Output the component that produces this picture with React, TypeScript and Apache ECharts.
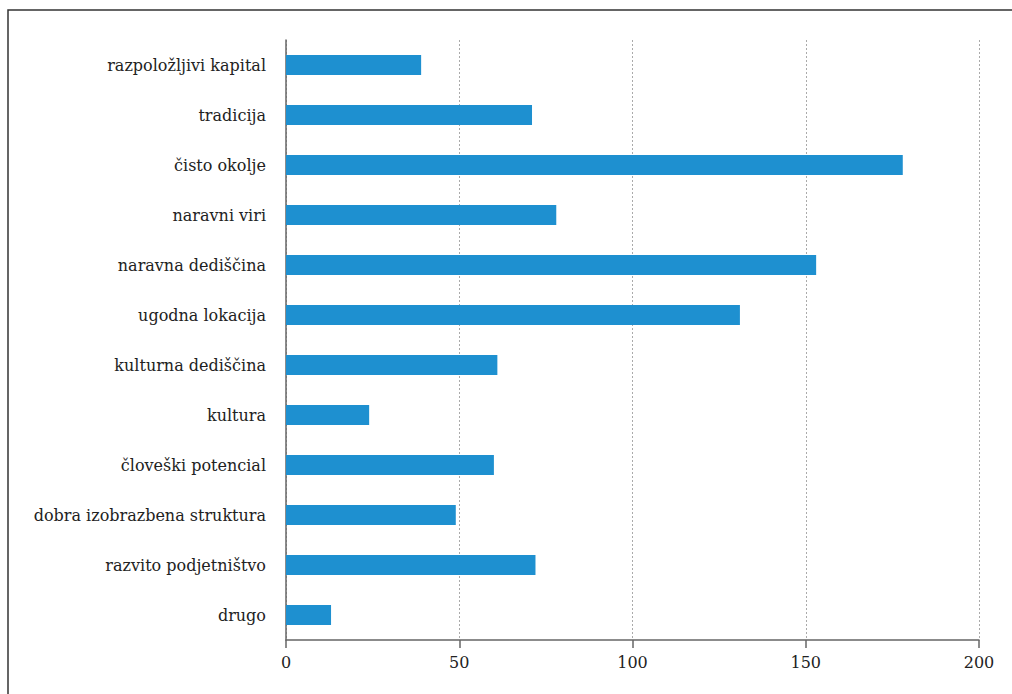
import React, { useEffect, useRef } from "react";
import * as echarts from "echarts";

const categories = [
  "razpoložljivi kapital",
  "tradicija",
  "čisto okolje",
  "naravni viri",
  "naravna dediščina",
  "ugodna lokacija",
  "kulturna dediščina",
  "kultura",
  "človeški potencial",
  "dobra izobrazbena struktura",
  "razvito podjetništvo",
  "drugo",
];
const values = [39, 71, 178, 78, 153, 131, 61, 24, 60, 49, 72, 13];
const xTicks = { min: 0, max: 200, interval: 50 };

export default function App() {
  const ref = useRef<HTMLDivElement>(null);
  useEffect(() => {
    const chart = echarts.init(ref.current!, null, { renderer: "svg" });
    const font = "DejaVu Serif";
    chart.setOption({
      animation: false,
      graphic: [
        {
          type: "rect",
          shape: { x: 8, y: 10, width: 1010, height: 700 },
          style: { fill: "none", stroke: "#333", lineWidth: 1.5 },
          silent: true,
        },
      ],
      grid: { left: 286, right: 33, top: 40, bottom: 54 },
      xAxis: {
        type: "value",
        min: xTicks.min,
        max: xTicks.max,
        interval: xTicks.interval,
        axisLine: { show: true, lineStyle: { color: "#666", width: 1.5 } },
        axisTick: { show: true, length: 8, lineStyle: { color: "#666", width: 1.5 } },
        axisLabel: { color: "#222", fontFamily: font, fontSize: 16, margin: 14 },
        splitLine: { show: true, lineStyle: { color: "#aaa", type: [2, 2], width: 1 } },
      },
      yAxis: {
        type: "category",
        data: categories,
        inverse: true,
        axisLine: { show: true, lineStyle: { color: "#666", width: 1.5 } },
        axisTick: { show: false },
        axisLabel: { color: "#222", fontFamily: font, fontSize: 16, margin: 20 },
        splitLine: { show: false },
      },
      series: [
        {
          type: "bar",
          data: values,
          barWidth: 20,
          itemStyle: { color: "#1e90d0" },
        },
      ],
    });
    return () => chart.dispose();
  }, []);
  return <div ref={ref} style={{ width: 1012, height: 694, position: "absolute", left: 0, top: 0 }} />;
}
